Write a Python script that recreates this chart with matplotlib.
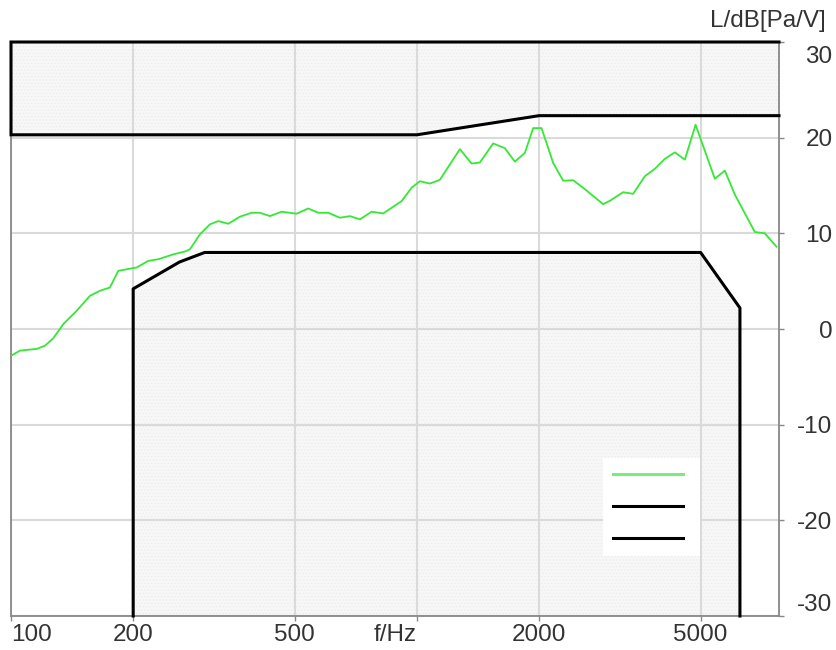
import matplotlib
matplotlib.use("Agg")
import matplotlib.pyplot as plt
from matplotlib.lines import Line2D
import matplotlib.transforms as mtransforms

# ---- data ----
meas_freq = [100, 105.2, 115.7, 121.3, 127.1, 134.6, 145.1, 156.5, 165.7, 175.3,
             183.8, 204, 217.8, 230.5, 251, 268.3, 276, 292.1, 309.1, 324.1,
             343, 366.4, 391.6, 410.6, 434.5, 464.2, 505.3, 539.8, 571.3, 604.6,
             646.1, 683.9, 723.8, 773.4, 826, 917, 970.3, 1017, 1076.5, 1139.4,
             1276, 1363.6, 1429.5, 1541.5, 1647, 1743, 1845, 1934, 2028, 2166,
             2293, 2427, 2568, 2876, 2988, 3222, 3410, 3644, 3857, 4081,
             4320, 4573, 4859, 5420, 5736, 6071, 6800, 7196, 7691]
meas_level = [-2.8, -2.26, -2.08, -1.74, -0.97, 0.52, 1.9, 3.47, 4.0, 4.34,
              6.08, 6.43, 7.12, 7.29, 7.8, 8.1, 8.33, 9.9, 10.94, 11.28,
              11.0, 11.74, 12.15, 12.15, 11.8, 12.26, 12.05, 12.6, 12.15, 12.15,
              11.63, 11.8, 11.46, 12.26, 12.08, 13.37, 14.76, 15.45, 15.2, 15.6,
              18.8, 17.3, 17.4, 19.4, 18.9, 17.5, 18.4, 21.0, 21.0, 17.36,
              15.5, 15.55, 14.76, 13.05, 13.4, 14.3, 14.13, 15.97, 16.74, 17.78,
              18.47, 17.7, 21.35, 15.7, 16.56, 14.06, 10.14, 10.0, 8.6]

upper_freq = [100, 1000, 2000, 7800]
upper_level = [20.3, 20.3, 22.3, 22.3]

lower_freq = [200, 200, 260, 300, 5000, 6250, 6250]
lower_level = [-30, 4.2, 7.0, 8.0, 8.0, 2.2, -30]

x_ticks = [100, 200, 500, 1000, 2000, 5000]
x_labels = ["100", "200", "500", "f/Hz", "2000", "5000"]
y_ticks = [-30, -20, -10, 0, 10, 20, 30]
y_labels = ["-30", "-20", "-10", "0", "10", "20", "30"]
x_range = (100, 7800)
y_range = (-30, 30)

# ---- style ----
plt.rcParams['font.family'] = ['Liberation Sans', 'DejaVu Sans']
plt.rcParams['hatch.color'] = '#ececec'
plt.rcParams['hatch.linewidth'] = 0.5
text_col = '#333333'
grid_col = '#dadada'
spine_col = '#888888'
fill_col = '#f7f7f7'
green = '#35e835'

fig = plt.figure(figsize=(8.37, 6.5), dpi=100)
ax = fig.add_axes([11/837, 34/650, 768/837, 574/650])
ax.set_xscale('log')
ax.set_xlim(*x_range)
ax.set_ylim(*y_range)

# grid
ax.set_xticks(x_ticks)
ax.set_xticklabels(x_labels)
ax.xaxis.set_minor_locator(matplotlib.ticker.NullLocator())
ax.set_yticks(y_ticks)
ax.set_yticklabels(y_labels)
ax.yaxis.tick_right()
ax.grid(True, color=grid_col, linewidth=1.5)
ax.set_axisbelow(True)

# upper tolerance region
ax.fill_between(upper_freq, upper_level, y_range[1], facecolor=fill_col, hatch='.....',
                edgecolor='none', linewidth=0, zorder=0.2)
ax.plot([upper_freq[-1], upper_freq[0]] + upper_freq,
        [y_range[1], y_range[1]] + upper_level,
        color='black', linewidth=2.2, clip_on=False, zorder=4, solid_joinstyle='miter')

# lower tolerance region
ax.fill_between(lower_freq, lower_level, y_range[0], facecolor=fill_col, hatch='.....',
                edgecolor='none', linewidth=0, zorder=0.2)
ax.plot(lower_freq, lower_level, color='black', linewidth=2.2, clip_on=False, zorder=4)

# measured curve
ax.plot(meas_freq, meas_level, color=green, linewidth=1.3, zorder=5)

# spines
for s in ['left', 'bottom', 'right']:
    ax.spines[s].set_color(spine_col)
    ax.spines[s].set_linewidth(1.3)
ax.spines['top'].set_color('#cccccc')
ax.spines['top'].set_linewidth(1.3)

ax.tick_params(axis='x', which='major', direction='out', length=3.6, width=1,
               color=spine_col, labelcolor=text_col, labelsize=17.5, pad=2)
ax.tick_params(axis='y', which='major', direction='out', length=3.6, width=1,
               color=spine_col, labelcolor=text_col, labelsize=17.5, pad=35)
ax.tick_params(axis='y', left=False)

xl = ax.get_xticklabels()
xl[0].set_ha('left')
xl[3].set_ha('right')
yl = ax.get_yticklabels()
for t in yl:
    t.set_ha('right')
yl[0].set_va('bottom')
yl[-1].set_va('top')
yl[-1].set_transform(yl[-1].get_transform() +
                     mtransforms.ScaledTranslation(0, -4/100, fig.dpi_scale_trans))

# legend (no text)
handles = [Line2D([], [], color='#77ee77', linewidth=2.2),
           Line2D([], [], color='black', linewidth=2.2),
           Line2D([], [], color='black', linewidth=2.2)]
leg = ax.legend(handles, ['', '', ''], loc='upper left', bbox_to_anchor=(0.771, 0.275),
                borderaxespad=0, fontsize=10, handlelength=5.0, handletextpad=0.55,
                labelspacing=1.3, borderpad=0.72, frameon=True, fancybox=False)
leg.get_frame().set_facecolor('white')
leg.get_frame().set_edgecolor('none')
leg.get_frame().set_alpha(1)
leg.set_zorder(6)

fig.text(826/837, 1 - 21/650, 'L/dB[Pa/V]', ha='right', va='center',
         fontsize=17.5, color=text_col)

fig.savefig('out.png', dpi=100)
